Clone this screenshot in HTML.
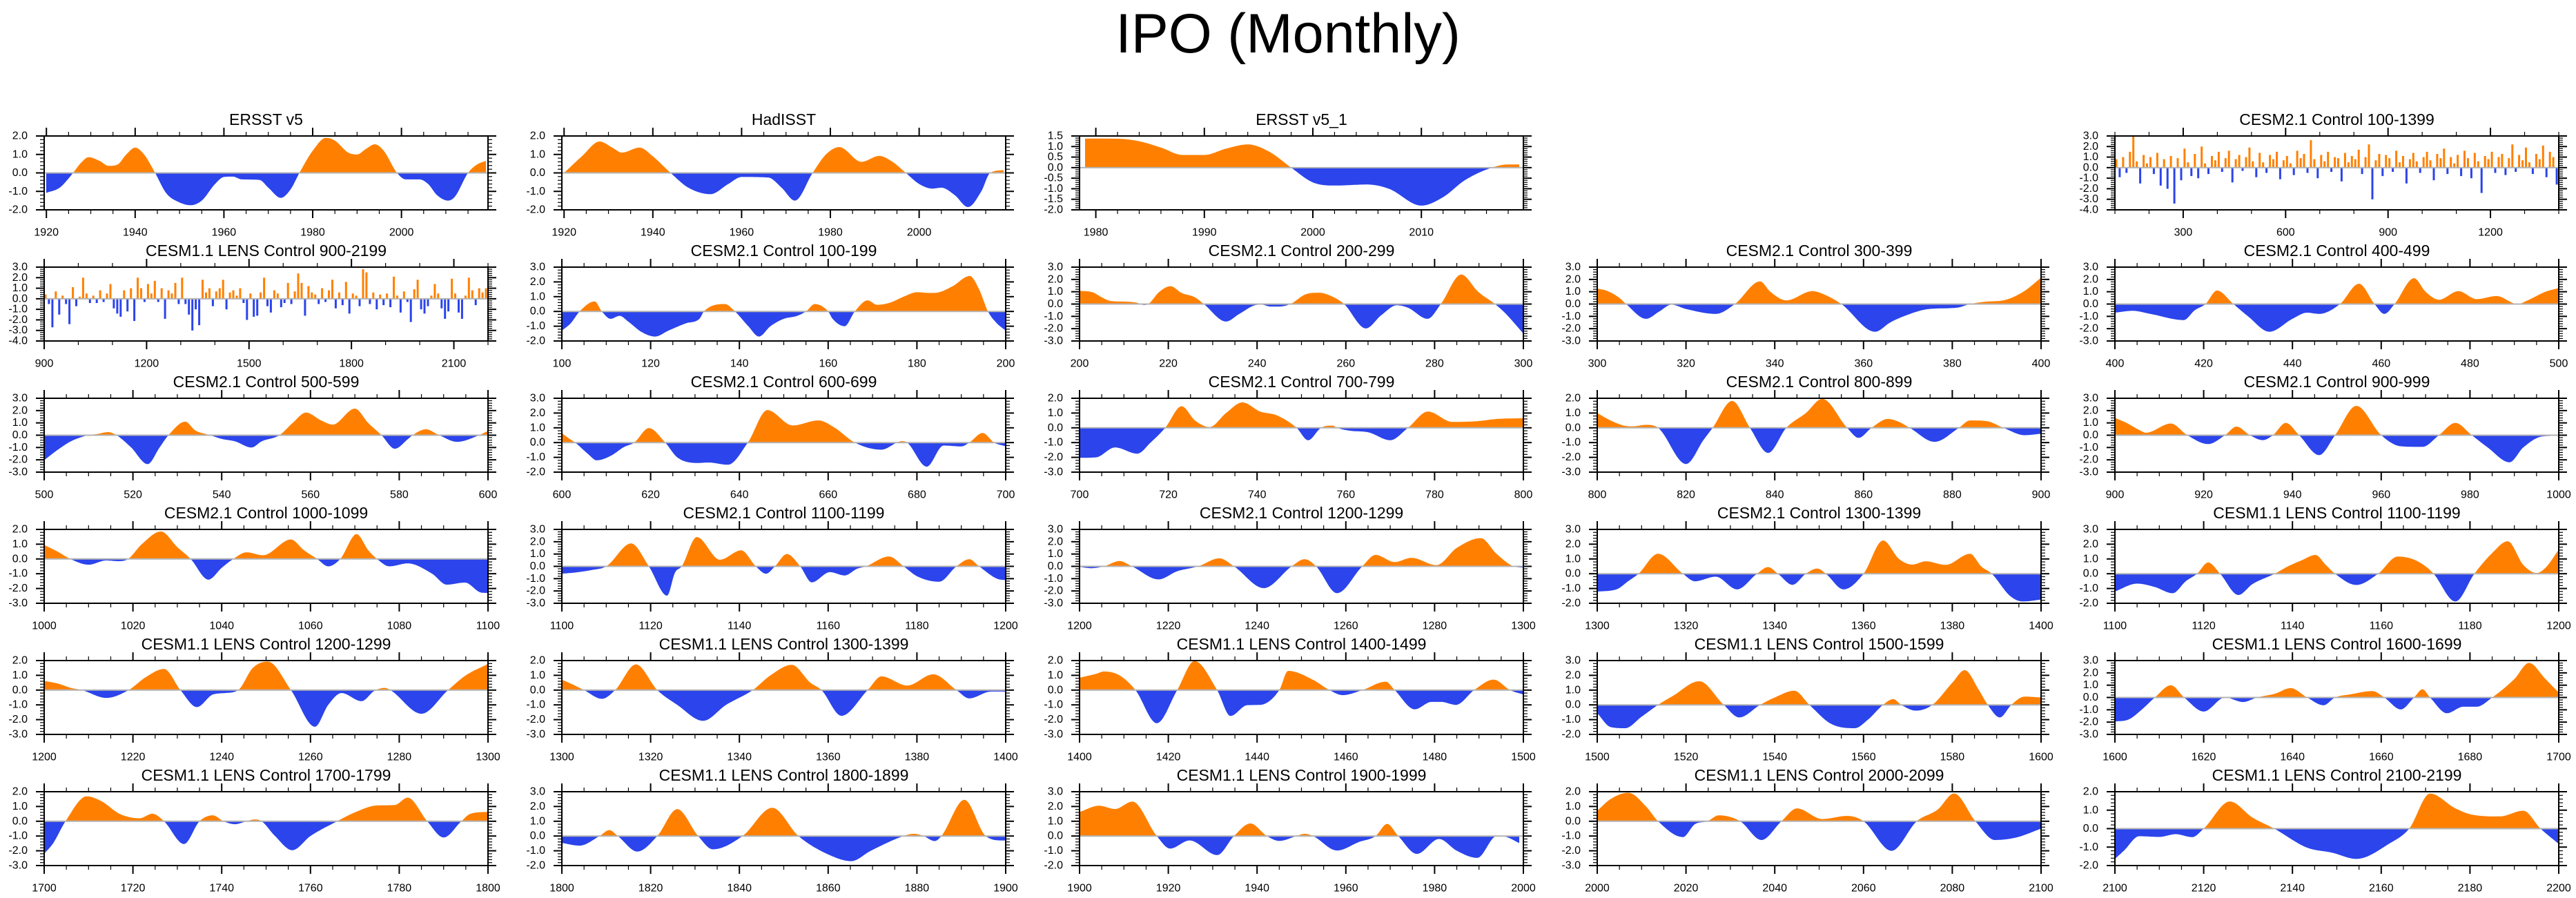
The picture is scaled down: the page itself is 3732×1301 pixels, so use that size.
<!DOCTYPE html>
<html><head><meta charset="utf-8"><title>IPO (Monthly)</title>
<style>html,body{margin:0;padding:0;background:#fff;}svg{display:block;font-family:"Liberation Sans",Arial,sans-serif;}</style>
</head><body>
<svg id="fig" width="3732" height="1301" viewBox="0 0 3732 1301" xmlns="http://www.w3.org/2000/svg">
<rect width="3732" height="1301" fill="#fff"/>
<text x="1866" y="76" text-anchor="middle" font-size="81" fill="#000">IPO (Monthly)</text>
</svg>
<script>
// ---- data: years and values per panel ----
const yrs_ersst = [1920,1923,1925,1926,1928,1929.5,1932,1934,1936,1938,1940,1942,1944.5,1947,1950,1952.5,1955,1958,1960,1962,1964,1968,1970,1972.8,1975,1977,1980,1983,1985,1988,1990,1992,1994,1996,1999,2001,2004,2006,2008,2010.5,2012,2015,2017,2019];
const val_ersst = [-1.08,-0.8,-0.3,0,0.6,0.85,0.65,0.38,0.45,1.0,1.37,1.0,0,-1.1,-1.6,-1.75,-1.5,-0.6,-0.22,-0.2,-0.35,-0.38,-0.8,-1.35,-0.9,0,1.2,1.9,1.75,1.1,1.0,1.3,1.55,1.2,0,-0.35,-0.35,-0.6,-1.2,-1.5,-1.3,0,0.45,0.65];
const yrs_had = [1920,1924,1928,1931,1933,1937,1940,1944,1948,1953,1957,1960,1966,1969,1972,1976,1979,1982,1987,1991,1994,1997,2000,2003,2005,2008,2011,2014,2016,2019];
const val_had = [0,0.9,1.7,1.35,1.1,1.37,0.9,0,-0.8,-1.15,-0.6,-0.22,-0.25,-0.8,-1.5,0,1.0,1.4,0.6,0.92,0.6,0,-0.6,-0.85,-0.8,-1.2,-1.85,-1.0,0,0.15];
const yrs_v51 = [1979,1982,1984,1986,1988,1990,1992,1994,1996,1998,2000,2002,2005,2007,2010,2012,2014,2016.5,2018,2019];
const val_v51 = [1.38,1.37,1.25,0.95,0.6,0.6,0.9,1.1,0.75,0,-0.7,-0.85,-0.8,-1.0,-1.8,-1.4,-0.6,0,0.15,0.15];
const val_c2long = [0.8,-0.9,1.0,-0.5,1.5,3.0,0.6,-1.5,1.2,0.4,1.0,-0.6,1.4,-1.7,0.8,-2.0,1.1,-3.4,0.9,-1.2,1.8,0.5,-0.8,1.3,-1.0,2.0,0.4,-0.6,1.1,0.7,1.5,-0.4,0.9,1.6,-1.4,0.8,1.2,-0.3,1.0,1.9,0.6,-0.9,1.4,0.5,-0.5,1.2,0.8,1.5,-1.1,0.7,1.1,0.4,-0.7,1.6,0.9,1.3,-0.5,2.6,0.8,-1.0,1.2,0.6,1.5,-0.4,1.0,0.9,-1.3,1.4,0.5,1.1,0.8,1.7,-0.6,1.0,2.2,-3.0,0.7,1.3,-0.8,1.2,0.9,-0.4,1.6,0.5,1.1,-1.5,0.8,1.4,0.6,-0.5,1.0,1.5,0.7,-1.2,1.3,0.9,1.8,-0.6,1.0,0.4,1.2,-0.8,1.6,0.9,-1.0,1.4,0.6,-2.4,1.1,0.8,1.5,-0.5,1.0,1.3,-0.7,0.9,2.2,-0.4,1.2,0.7,1.9,0.5,-0.6,1.3,0.8,2.1,-0.9,1.5,1.0,-1.6];
const val_lenslong = [0.4,-0.5,-2.7,0.7,-1.5,0.3,-0.5,-2.4,1.1,-0.7,0.2,2.0,0.5,-0.4,0.3,-0.4,0.8,-0.3,0.5,1.4,-0.9,-1.4,-1.7,0.8,-1.2,1.0,-2.1,2.0,1.0,-0.3,1.4,0.5,1.7,-0.3,1.0,-1.9,0.8,0.5,1.5,-0.5,2.0,-0.5,-1.5,-3.0,-1.0,-2.5,1.8,0.6,1.0,-0.7,0.7,1.0,1.8,-1.0,0.6,0.8,0.3,1.0,-0.4,-2.0,0.5,-1.7,-1.6,0.6,2.0,-0.7,-1.3,0.8,0.5,-0.8,-0.4,1.5,-0.5,0.7,2.4,1.5,-1.6,1.2,0.6,0.4,-0.5,1.0,-0.3,0.8,1.8,-0.9,0.6,-0.6,1.6,-1.4,0.5,0.3,-0.7,2.8,2.5,-0.5,0.6,-1.0,0.4,-0.6,0.5,-0.8,2.1,0.3,-1.3,0.7,-0.3,-2.2,0.9,1.8,-1.0,-1.4,-0.7,0.3,1.4,0.5,-0.9,-1.9,-1.2,1.9,0.5,-1.3,-1.9,0.3,2.0,0.8,-0.6,1.0,0.6,1.0];
const yrs_c100 = [100,102,104,107.4,109,111,113,115,118,121,124,128,131,132,136.7,139,142,144.4,147,150,153,155,157,160,161,163.7,166,168.9,171,174,177,180,183,185,188,191.9,194,196,198,200];
const val_c100 = [-1.3,-0.8,0,0.68,0,-0.5,-0.3,-0.7,-1.4,-1.7,-1.3,-0.8,-0.5,0,0.5,0,-1.0,-1.7,-1.0,-0.5,-0.3,0,0.5,0,-0.5,-1.0,0,0.75,0.45,0.6,1.0,1.3,1.25,1.3,1.7,2.4,1.5,0,-0.8,-1.3];
const yrs_c200 = [200,203,205,207,210,213,214.5,215.5,218,220.5,223,226,228,233,236,239.5,241,243,245,247.5,251,254,257,259.6,264.5,268,271.5,274,278.4,281.4,286,289.8,293.6,295.8,300];
const val_c200 = [1.08,0.95,0.55,0.25,0.2,0.1,-0.08,0,1.0,1.45,0.9,0.55,0,-1.42,-0.8,-0.1,-0.05,-0.2,-0.2,0,0.8,0.92,0.6,0,-1.98,-0.9,-0.1,-0.3,-1.2,0,2.4,1.0,0,-0.7,-2.4];
const yrs_c300 = [300,302,305,306.5,311,314,316.7,320,326.7,331,336.7,339,342.6,348.5,351,355,362.6,366,369,374.8,381,384,387.8,391.5,396,400];
const val_c300 = [1.25,1.1,0.5,0,-1.2,-0.6,-0.05,-0.4,-0.8,0,1.84,1.0,0.3,1.05,0.8,0,-2.25,-1.5,-1.0,-0.4,-0.3,0,0.2,0.3,1.0,2.14];
const yrs_c400 = [400,404,408,415.5,418,420.4,423,426.7,430,434.8,440,443.3,446,450.7,455,458.5,460.7,463,467.4,470,473,477.4,481.5,486,490.7,493,497,500];
const val_c400 = [-0.7,-0.55,-0.8,-1.3,-0.5,0,1.1,0,-1.0,-2.25,-1.2,-0.7,-0.8,0,1.65,0,-0.8,0,2.1,1.0,0.35,1.05,0.4,0.65,0,0.3,1.0,1.3];
const yrs_c500 = [500,503,506,508,510,512,514.4,516.3,519.6,523.3,526,528,531.8,534,537.4,540,543,546.7,549,553,556,559,562.4,565,570,573,576,579,582,583,586,589,593,598,600];
const val_c500 = [-2.03,-1.2,-0.5,-0.2,0,0.1,0.25,0,-1.0,-2.35,-1.0,0,1.1,0.4,0,-0.3,-0.5,-1.0,-0.5,0,1.0,1.84,1.2,0.86,2.16,1.0,0,-1.1,-0.3,0,0.48,0,-0.54,0,0.35];
const yrs_c600 = [600,601.5,603,606,607.8,611,614,616.3,619.6,623.3,626,630.7,633,637.4,641.9,646.3,652,657.8,661.5,666,672,675.5,676.5,677.8,682.2,686,690,691.8,694.8,697.4,700];
const val_c600 = [0.65,0.3,0,-0.8,-1.2,-0.9,-0.3,0,0.98,0,-1.0,-1.38,-1.35,-1.5,0,2.2,1.16,1.5,1.0,0,-0.48,0,0.1,0,-1.63,-0.2,-0.26,0,0.65,0,-0.25];
const yrs_c700 = [700,703.7,708,713,716,719.3,723,726,729.3,733,736.7,740.7,744.4,748.9,751.5,754.4,757,758,761,765,770,774,778.5,784,789.6,794,800];
const val_c700 = [-2.03,-2.0,-1.33,-1.75,-1.0,0,1.46,0.5,0.05,1.0,1.72,1.1,0.85,0,-0.84,0,0.15,0,-0.2,-0.3,-0.84,0,1.1,0.4,0.45,0.6,0.65];
const yrs_c800 = [800,803,806,808,811,813.7,820,824,826,830.4,834.4,838.5,842.6,847,850.7,856.3,858.9,861.8,865.5,868,870.4,876,881.5,884,887.8,891.5,896.3,900];
const val_c800 = [1.0,0.5,0.15,0.1,0.2,0,-2.45,-0.8,0,1.82,0,-1.7,0,1.0,1.96,0,-0.68,0,0.6,0.4,0,-0.95,0,0.5,0.45,0,-0.5,-0.4];
const yrs_c900 = [900,902.6,905.6,907,912.6,916.3,921,924.8,927.4,930.4,933.3,935.6,938.5,941.5,946,949.6,954.4,960,964.4,969.3,973,976.7,980.4,984,988.9,992,996.3,1000];
const val_c900 = [1.41,1.0,0.4,0.2,0.95,0,-0.72,0,0.7,0,-0.4,0,1.0,0,-1.62,0,2.38,0,-0.9,-0.95,0,1.0,0,-1.0,-2.2,-1.0,-0.1,-0.05];
const yrs_c1000 = [1000,1003,1005.9,1010,1014,1016.7,1018.9,1022,1026.3,1030,1033,1037,1040,1042.6,1045.6,1049.3,1055.6,1058.5,1061.5,1064,1066.7,1070.4,1073,1075,1077.8,1081.9,1087.4,1090.7,1094.8,1098.5,1100];
const val_c1000 = [0.95,0.5,0,-0.39,-0.1,-0.15,0,1.0,1.86,0.8,0,-1.4,-0.6,0,0.45,0.25,1.32,0.6,0,-0.5,0,1.68,0.6,0,-0.5,-0.3,-1.0,-1.74,-1.6,-2.28,-2.3];
const yrs_c1100 = [1100,1103,1106.7,1110,1115.6,1119.6,1123.7,1125.5,1127,1130.4,1135.6,1140.4,1143.7,1146,1148,1150.7,1153.7,1156.3,1160.4,1163.7,1166.5,1168.5,1173.7,1177,1180,1185,1188.9,1191.8,1194,1198,1200];
const val_c1100 = [-0.6,-0.5,-0.3,0,1.86,0,-2.38,-0.5,0,2.38,0.54,1.3,0,-0.6,0,1.0,0,-1.3,-0.47,-0.74,-0.2,0,0.8,0,-0.8,-1.25,0,0.58,0,-1.0,-1.12];
const yrs_c1200 = [1200,1202.6,1205.5,1209,1211.8,1217.8,1222,1226.7,1231.5,1234.8,1241.5,1247.8,1250.7,1253.3,1258,1263.7,1266.7,1271,1274.8,1280.4,1285,1290.4,1294,1297.8,1300];
const val_c1200 = [-0.05,-0.15,0,0.43,0,-1.06,-0.4,0,0.65,0,-1.77,0,0.58,0,-2.18,0,0.93,0.35,0.69,0.1,1.5,2.29,1.0,0,-0.1];
const yrs_c1300 = [1300,1304.4,1307,1309.3,1313.7,1319.3,1322,1326.7,1331.5,1336,1338.5,1340.7,1344,1347,1349.6,1351.5,1355.5,1360,1364.4,1368,1371,1374,1378.5,1384,1386.5,1388.9,1393,1395.9,1400];
const val_c1300 = [-1.21,-1.05,-0.5,0,1.35,0,-0.51,-0.2,-1.06,0,0.45,0,-0.75,0,0.35,0,-1.06,0,2.25,1.0,0.62,0.84,0.6,1.35,0.5,0,-1.5,-1.88,-1.75];
const yrs_l1100 = [1100,1105,1109,1113,1116,1118.5,1121,1123.7,1127.8,1131,1136,1139,1142,1145.2,1147.5,1149.6,1154.4,1159.3,1163.7,1167,1170,1171.8,1176.7,1181,1185,1188.5,1192,1195,1197,1200];
const val_l1100 = [-1.2,-0.67,-0.9,-1.32,-0.5,0,0.76,0,-1.44,-0.7,0,0.5,0.9,1.27,0.6,0,-0.76,0,1.16,1.0,0.5,0,-1.88,0,1.4,2.2,0.6,0.05,0.4,1.63];
const yrs_l1200 = [1200,1203,1206,1208.5,1214,1219,1223,1227,1230.7,1234.4,1238,1240.7,1243.7,1247,1250.4,1255.6,1261,1264,1267,1271.5,1274.4,1276.7,1278,1285,1291,1295,1300];
const val_l1200 = [0.62,0.45,0.15,0,-0.53,0,0.9,1.43,0,-1.15,-0.3,-0.2,0,1.5,1.93,0,-2.48,-1.0,-0.2,-0.75,-0.05,0.15,0,-1.6,0,1.0,1.77];
const yrs_l1300 = [1300,1303,1305,1309,1312,1316.7,1321.5,1326,1331.8,1337,1343,1347,1351.8,1356,1358.5,1363,1368.9,1372,1377.8,1383.7,1388.9,1391.8,1396.7,1400];
const val_l1300 = [0.71,0.3,0,-0.59,0,1.74,0,-1.0,-2.08,-1.0,0,1.0,1.71,0.5,0,-1.74,0,0.93,0.31,1.07,0,-0.56,-0.1,-0.1];
const yrs_l1400 = [1400,1403.7,1405.5,1409,1412.6,1417.4,1422,1425.9,1431,1434,1437.8,1440.7,1445,1447,1452.6,1456.3,1459.3,1463.7,1469,1471,1475.5,1479.3,1481.5,1484.8,1488.9,1493.3,1497,1500];
const val_l1400 = [0.84,1.1,1.26,1.0,0,-2.24,0,1.97,0,-1.75,-1.02,-1.0,0,1.3,0.7,0,-0.34,0,0.57,0,-1.3,-0.8,-0.8,-1.0,0,0.71,0,-0.3];
const yrs_l1500 = [1500,1503,1506.3,1510,1513.7,1517,1523,1528.5,1532,1536.7,1540,1544.4,1547.8,1552.6,1558,1561,1564.4,1566.7,1568.5,1571.8,1575.5,1580,1582.8,1586,1588,1590.7,1593.3,1596.3,1600];
const val_l1500 = [-0.56,-1.5,-1.58,-0.8,0,0.6,1.6,0,-0.85,0,0.5,0.96,0,-1.27,-1.58,-1.0,0,0.39,0,-0.39,0,1.5,2.35,1.0,0,-0.85,0,0.56,0.5];
const yrs_l1600 = [1600,1603,1606,1609,1612.6,1615.6,1620,1624.8,1628.9,1632,1636,1639.6,1643.3,1647,1649.6,1653,1658,1660.7,1664.4,1667.4,1669.3,1671,1674.8,1678.5,1681.5,1685,1690,1693.3,1697,1700];
const val_l1600 = [-1.95,-1.8,-1.0,0,0.99,0,-1.14,0,-0.37,0,0.3,0.76,0,-0.63,0,0.25,0.52,0,-0.97,0,0.67,0,-1.28,-0.75,-0.75,0,1.5,2.81,1.5,0.4];
const yrs_l1700 = [1700,1702,1704.8,1709.6,1713,1717,1721.5,1724.4,1727,1731.5,1735,1738,1740.4,1743,1745.6,1747.4,1749,1752,1755.9,1760,1766,1770,1775,1779,1781.9,1786.3,1790,1794,1796,1800];
const val_l1700 = [-2.2,-1.5,0,1.69,1.34,0.5,0.2,0.51,0,-1.54,0,0.4,0,-0.2,0,0.12,0,-1.0,-1.96,-1.0,0,0.6,1.07,1.1,1.6,0,-1.1,0,0.5,0.64];
const yrs_l1800 = [1800,1804,1808.5,1810.7,1812.6,1817,1821.5,1826,1830.7,1834,1840.7,1847.4,1853.3,1860.4,1865.2,1869.6,1877,1879.3,1881.5,1884,1885.5,1890.7,1895.5,1899.3,1900];
const val_l1800 = [-0.47,-0.65,0,0.4,0,-1.05,0,1.82,0,-0.9,0,1.91,0,-1.3,-1.7,-1.0,0,0.15,0,-0.34,0,2.45,0,-0.3,-0.3];
const yrs_l1900 = [1900,1904.4,1908,1911.9,1917.4,1920.4,1924.8,1931,1934.8,1938.5,1942.2,1945,1948.9,1950.7,1952.6,1958,1963,1966.7,1969.3,1971.8,1976,1981,1985,1989.6,1994,1996,1999];
const val_l1900 = [1.63,2.05,1.83,2.33,0,-0.85,-0.3,-1.29,0,0.85,0,-0.33,0,0.15,0,-0.98,-0.4,0,0.82,0,-1.21,-0.2,-1.0,-1.48,0,-0.05,-0.47];
const yrs_l2000 = [2000,2003,2007,2011,2013.7,2019.3,2022,2024.8,2027.4,2032.2,2037,2041.5,2045,2050.7,2056.3,2060,2066.3,2072,2076.7,2080.4,2085.2,2089.6,2094.4,2100];
const val_l2000 = [0.71,1.5,1.93,1.0,0,-1.07,-0.2,0,0.4,0,-1.27,0,0.87,0.15,0.36,0,-2.0,0,0.79,1.88,0,-1.27,-1.1,-0.5];
const yrs_l2100 = [2100,2102,2105.5,2110,2113.7,2117.4,2120,2125.9,2131,2135.9,2143.3,2148.9,2154.4,2161.9,2166.3,2171,2176.7,2180.4,2186.7,2192,2195.9,2200];
const val_l2100 = [-1.64,-1.2,-0.41,-0.45,-0.3,-0.46,0,1.47,0.6,0,-1.03,-1.3,-1.64,-0.8,0,1.9,1.1,0.76,0.66,0.97,0,-0.83];

// ---- panel definitions: [row, col, title, years, values, xmin, xmax, ymin, ymax, yStep, xMajor, xMinor] ----
const panels = [
 [0,0,'ERSST v5',yrs_ersst,val_ersst,1919.5,2019.5,-2,2,1,20,5],
 [0,1,'HadISST',yrs_had,val_had,1919.5,2019.5,-2,2,1,20,5],
 [0,2,'ERSST v5_1',yrs_v51,val_v51,1978.5,2019.4,-2,1.5,0.5,10,2],
 [0,4,'CESM2.1 Control 100-1399',null,val_c2long,100,1400,-4,3,1,300,100],
 [1,0,'CESM1.1 LENS Control 900-2199',null,val_lenslong,900,2200,-4,3,1,300,100],
 [1,1,'CESM2.1 Control 100-199',yrs_c100,val_c100,100,200,-2,3,1,20,5],
 [1,2,'CESM2.1 Control 200-299',yrs_c200,val_c200,200,300,-3,3,1,20,5],
 [1,3,'CESM2.1 Control 300-399',yrs_c300,val_c300,300,400,-3,3,1,20,5],
 [1,4,'CESM2.1 Control 400-499',yrs_c400,val_c400,400,500,-3,3,1,20,5],
 [2,0,'CESM2.1 Control 500-599',yrs_c500,val_c500,500,600,-3,3,1,20,5],
 [2,1,'CESM2.1 Control 600-699',yrs_c600,val_c600,600,700,-2,3,1,20,5],
 [2,2,'CESM2.1 Control 700-799',yrs_c700,val_c700,700,800,-3,2,1,20,5],
 [2,3,'CESM2.1 Control 800-899',yrs_c800,val_c800,800,900,-3,2,1,20,5],
 [2,4,'CESM2.1 Control 900-999',yrs_c900,val_c900,900,1000,-3,3,1,20,5],
 [3,0,'CESM2.1 Control 1000-1099',yrs_c1000,val_c1000,1000,1100,-3,2,1,20,5],
 [3,1,'CESM2.1 Control 1100-1199',yrs_c1100,val_c1100,1100,1200,-3,3,1,20,5],
 [3,2,'CESM2.1 Control 1200-1299',yrs_c1200,val_c1200,1200,1300,-3,3,1,20,5],
 [3,3,'CESM2.1 Control 1300-1399',yrs_c1300,val_c1300,1300,1400,-2,3,1,20,5],
 [3,4,'CESM1.1 LENS Control 1100-1199',yrs_l1100,val_l1100,1100,1200,-2,3,1,20,5],
 [4,0,'CESM1.1 LENS Control 1200-1299',yrs_l1200,val_l1200,1200,1300,-3,2,1,20,5],
 [4,1,'CESM1.1 LENS Control 1300-1399',yrs_l1300,val_l1300,1300,1400,-3,2,1,20,5],
 [4,2,'CESM1.1 LENS Control 1400-1499',yrs_l1400,val_l1400,1400,1500,-3,2,1,20,5],
 [4,3,'CESM1.1 LENS Control 1500-1599',yrs_l1500,val_l1500,1500,1600,-2,3,1,20,5],
 [4,4,'CESM1.1 LENS Control 1600-1699',yrs_l1600,val_l1600,1600,1700,-3,3,1,20,5],
 [5,0,'CESM1.1 LENS Control 1700-1799',yrs_l1700,val_l1700,1700,1800,-3,2,1,20,5],
 [5,1,'CESM1.1 LENS Control 1800-1899',yrs_l1800,val_l1800,1800,1900,-2,3,1,20,5],
 [5,2,'CESM1.1 LENS Control 1900-1999',yrs_l1900,val_l1900,1900,2000,-2,3,1,20,5],
 [5,3,'CESM1.1 LENS Control 2000-2099',yrs_l2000,val_l2000,2000,2100,-3,2,1,20,5],
 [5,4,'CESM1.1 LENS Control 2100-2199',yrs_l2100,val_l2100,2100,2200,-2,2,1,20,5]
];

const NS = 'http://www.w3.org/2000/svg';
const svg = document.getElementById('fig');
const COL_LEFT = [64, 814, 1564, 2314, 3064];
const ROW_TOP = [197, 387, 577, 767, 957, 1147];
const PW = 643, PH = 107;
const ORANGE = '#ff8000', BLUE = '#2b44eb';

function mk(tag, attrs, parent) {
  const e = document.createElementNS(NS, tag);
  for (const k in attrs) e.setAttribute(k, attrs[k]);
  parent.appendChild(e);
  return e;
}
function monotone(xs, ys) {
  const n = xs.length, d = [], m = new Array(n);
  for (let i = 0; i < n - 1; i++) d.push((ys[i+1]-ys[i])/(xs[i+1]-xs[i]));
  m[0] = d[0]; m[n-1] = d[n-2];
  for (let i = 1; i < n - 1; i++) m[i] = (d[i-1]*d[i] <= 0) ? 0 : (d[i-1]+d[i])/2;
  for (let i = 0; i < n - 1; i++) {
    if (d[i] === 0) { m[i] = 0; m[i+1] = 0; continue; }
    const a = m[i]/d[i], b = m[i+1]/d[i], s = a*a + b*b;
    if (s > 9) { const t = 3/Math.sqrt(s); m[i] = t*a*d[i]; m[i+1] = t*b*d[i]; }
  }
  return function (x) {
    let i = 0;
    while (i < n - 2 && x > xs[i+1]) i++;
    const h = xs[i+1]-xs[i], t = Math.min(1, Math.max(0, (x - xs[i]) / h));
    const t2 = t*t, t3 = t2*t;
    return (2*t3-3*t2+1)*ys[i] + (t3-2*t2+t)*h*m[i] + (-2*t3+3*t2)*ys[i+1] + (t3-t2)*h*m[i+1];
  };
}
function fmt(v) { return (Math.abs(v) < 1e-9 ? 0 : v).toFixed(1); }

panels.forEach((p, idx) => {
  const [row, col, title, yrs, vals, xmin, xmax, ymin, ymax, ystep, xMaj, xMin] = p;
  const L = COL_LEFT[col], T = ROW_TOP[row], R = L + PW, B = T + PH;
  const xs = v => L + (v - xmin) / (xmax - xmin) * PW;
  const ys = v => B - (v - ymin) / (ymax - ymin) * PH;
  const g = mk('g', {}, svg);
  
  
  const t = mk('text', {x: (L + R) / 2, y: T - 24, 'text-anchor': 'middle', 'dominant-baseline': 'central', 'font-size': 23, fill: '#000'}, g);
  t.textContent = title;
  
  
  const y0 = ys(0);
  const cid = 'c' + idx;
  const defs = mk('defs', {}, g);
  const cu = mk('clipPath', {id: cid + 'u'}, defs); mk('rect', {x: L, y: T, width: PW, height: y0 - T}, cu);
  const cd = mk('clipPath', {id: cid + 'd'}, defs); mk('rect', {x: L, y: y0, width: PW, height: B - y0}, cd);
  if (yrs) {
    const f = monotone(yrs, vals);
    const x0 = Math.round(xs(yrs[0])), x1 = Math.round(xs(yrs[yrs.length - 1]));
    let d = 'M' + x0 + ' ' + y0.toFixed(1);
    for (let x = x0; x <= x1; x++) {
      const yr = xmin + (x - L) / PW * (xmax - xmin);
      d += 'L' + x + ' ' + ys(f(yr)).toFixed(1);
    }
    d += 'L' + x1 + ' ' + y0.toFixed(1) + 'Z';
    const pu = mk('path', {d: d, fill: ORANGE, 'clip-path': 'url(#' + cid + 'u)'}, g);
    
    
    const pd = mk('path', {d: d, fill: BLUE, 'clip-path': 'url(#' + cid + 'd)'}, g);
    
    
  } else {
    const n = vals.length, step = (xmax - xmin) / n;
    vals.forEach((v, i) => {
      const xa = xs(xmin + i * step), xb = xs(xmin + (i + 1) * step);
      const yv = ys(v);
      const bar = mk('rect', {x: (xa + 0.5).toFixed(1), width: Math.max(1, (xb - xa) * 0.6).toFixed(1),
        y: Math.min(yv, y0).toFixed(1), height: Math.abs(yv - y0).toFixed(1), fill: v >= 0 ? ORANGE : BLUE}, g);
      
      
    });
  }
  const zl = mk('line', {x1: L, x2: R, y1: y0, y2: y0, stroke: '#b4b4b4', 'stroke-width': 2}, g);
  
  
  // y ticks
  const ny = Math.round((ymax - ymin) / ystep);
  const nyMinor = Math.round((ymax - ymin) / (ystep / 5));
  for (let i = 0; i <= nyMinor; i++) {
    const yy = ys(ymin + i * ystep / 5);
    mk('line', {x1: L - 6, x2: L, y1: yy, y2: yy, stroke: '#000', 'stroke-width': 1.2}, g);
    mk('line', {x1: R, x2: R + 6, y1: yy, y2: yy, stroke: '#000', 'stroke-width': 1.2}, g);
  }
  for (let i = 0; i <= ny; i++) {
    const v = ymin + i * ystep, yy = ys(v);
    mk('line', {x1: L - 12, x2: L, y1: yy, y2: yy, stroke: '#000', 'stroke-width': 2}, g);
    mk('line', {x1: R, x2: R + 12, y1: yy, y2: yy, stroke: '#000', 'stroke-width': 2}, g);
    const lb = mk('text', {x: L - 24, y: yy, 'text-anchor': 'end', 'dominant-baseline': 'central', 'font-size': 16, fill: '#000'}, g);
    lb.textContent = fmt(v);
    
    
  }
  // x ticks
  for (let v = Math.ceil(xmin / xMin) * xMin; v <= xmax + 1e-6; v += xMin) {
    const xx = xs(v);
    mk('line', {x1: xx, x2: xx, y1: B, y2: B + 6, stroke: '#000', 'stroke-width': 1.2}, g);
    mk('line', {x1: xx, x2: xx, y1: T - 6, y2: T, stroke: '#000', 'stroke-width': 1.2}, g);
  }
  for (let v = Math.ceil(xmin / xMaj) * xMaj; v <= xmax + 1e-6; v += xMaj) {
    const xx = xs(v);
    mk('line', {x1: xx, x2: xx, y1: B, y2: B + 12, stroke: '#000', 'stroke-width': 2}, g);
    mk('line', {x1: xx, x2: xx, y1: T - 12, y2: T, stroke: '#000', 'stroke-width': 2}, g);
    const lb = mk('text', {x: xx, y: B + 33, 'text-anchor': 'middle', 'dominant-baseline': 'central', 'font-size': 16, fill: '#000'}, g);
    lb.textContent = String(v);
    
    
  }
  const fr = mk('rect', {x: L, y: T, width: PW, height: PH, fill: 'none', stroke: '#000', 'stroke-width': 2}, g);
  
  
});
</script>
</body></html>
